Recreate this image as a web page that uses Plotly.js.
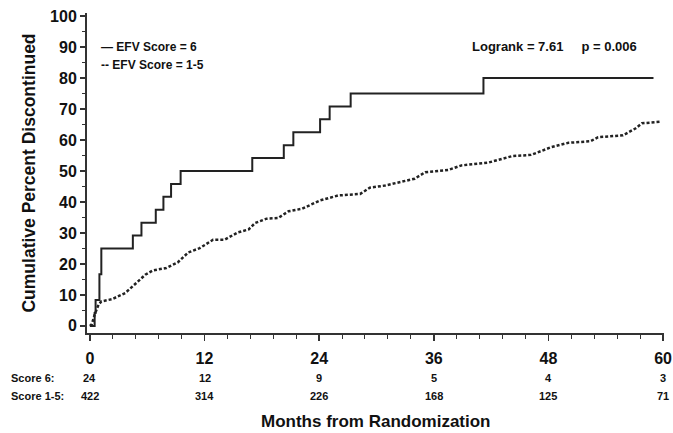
<!DOCTYPE html>
<html>
<head>
<meta charset="utf-8">
<script src="https://cdn.plot.ly/plotly-3.0.1.min.js"></script>
<style>html,body{margin:0;padding:0;background:#fff;}#chart{width:673px;height:433px;}</style>
</head>
<body>
<div id="chart"></div>
<script>
// EFV Score = 6 (solid, step curve)
const months6 = [0, 0.5, 0.6, 1.0, 1.2, 4.5, 5.4, 6.9, 7.7, 8.5, 9.5, 17.0, 20.3, 21.3, 24.1, 25.1, 27.3, 41.2, 59.0];
const pct6 = [0, 4.17, 8.33, 16.67, 25, 29.17, 33.33, 37.5, 41.67, 45.83, 50, 54.17, 58.33, 62.5, 66.67, 70.83, 75, 80, 80];
// EFV Score = 1-5 (dotted)
const months15 = [0, 0.2, 0.5, 0.9, 1.2, 2.3, 3.7, 4.7, 5.8, 6.6, 8.0, 9.2, 10.3, 11.5, 12.9, 14.1, 15.5, 16.6, 17.3, 18.5, 19.7, 20.8, 22.2, 24.1, 26.0, 28.3, 29.3, 30.9, 32.6, 34.0, 35.1, 37.5, 38.9, 41.7, 44.2, 46.2, 48.3, 50.1, 52.4, 53.2, 55.8, 57.1, 57.8, 59.8];
const pct15 = [0, 0.5, 3.6, 6.8, 7.9, 8.6, 10.6, 13.3, 16.5, 17.9, 18.7, 20.5, 23.7, 25.1, 27.8, 27.8, 30.2, 31.1, 33.2, 34.6, 34.8, 37.0, 37.8, 40.5, 42.1, 42.6, 44.6, 45.3, 46.4, 47.5, 49.6, 50.3, 51.8, 52.7, 54.8, 55.2, 57.7, 59.1, 59.6, 60.9, 61.5, 63.7, 65.4, 65.9];
// Numbers at risk
const riskMonths = [0, 12, 24, 36, 48, 60];
const risk6 = [24, 12, 9, 5, 4, 3];
const risk15 = [422, 314, 226, 168, 125, 71];
const riskLabels = ["Score 6:", "Score 1-5:"];
const legendLabels = ["\u2014 EFV Score = 6", "-- EFV Score = 1-5"];
const statText = "Logrank = 7.61     p = 0.006";
const xTicks = [0, 12, 24, 36, 48, 60];
const yTicks = [0, 10, 20, 30, 40, 50, 60, 70, 80, 90, 100];

const FONT = 'Liberation Sans, Arial, sans-serif';
const NARROW = 'Liberation Sans Narrow, Liberation Sans, Arial, sans-serif';

const traces = [
  {x: months6, y: pct6, mode: 'lines', line: {shape: 'hv', color: '#222', width: 2}, showlegend: false, hoverinfo: 'skip'},
  {x: months15, y: pct15, mode: 'lines', line: {shape: 'linear', color: '#222', width: 2.5, dash: '3px,2px'}, showlegend: false, hoverinfo: 'skip'}
];

const annotations = [];
legendLabels.forEach((t, i) => {
  annotations.push({xref: 'paper', yref: 'paper', x: 0.02, y: 0.895 - i * 0.058, xanchor: 'left', yanchor: 'middle', showarrow: false, text: '<b>' + t + '</b>', font: {family: FONT, size: 12, color: '#111'}});
});
annotations.push({xref: 'paper', yref: 'paper', x: 0.957, y: 0.895, xanchor: 'right', yanchor: 'middle', showarrow: false, text: '<b>' + statText.replace(/ {2,}/g, m => '&nbsp;'.repeat(m.length)) + '</b>', font: {family: FONT, size: 13, color: '#111'}});
const rowY = [-0.14, -0.197];
riskLabels.forEach((t, r) => {
  annotations.push({xref: 'paper', yref: 'paper', x: -0.135, y: rowY[r], xanchor: 'left', yanchor: 'middle', showarrow: false, text: '<b>' + t + '</b>', font: {family: NARROW, size: 11, color: '#111'}});
});
riskMonths.forEach((m, i) => {
  annotations.push({xref: 'x', yref: 'paper', x: m, y: rowY[0], xanchor: 'center', yanchor: 'middle', showarrow: false, text: '<b>' + risk6[i] + '</b>', font: {family: NARROW, size: 11, color: '#111'}});
  annotations.push({xref: 'x', yref: 'paper', x: m, y: rowY[1], xanchor: 'center', yanchor: 'middle', showarrow: false, text: '<b>' + risk15[i] + '</b>', font: {family: NARROW, size: 11, color: '#111'}});
});
annotations.push({xref: 'paper', yref: 'paper', x: 0.5, y: -0.278, xanchor: 'center', yanchor: 'middle', showarrow: false, text: '<b>Months from Randomization</b>', font: {family: FONT, size: 17, color: '#111'}});

const layout = {
  width: 673, height: 433,
  margin: {l: 87, r: 9, t: 13, b: 100},
  paper_bgcolor: '#fff', plot_bgcolor: '#fff',
  showlegend: false,
  font: {family: FONT, color: '#111'},
  xaxis: {
    range: [-0.3, 60.1], tickvals: xTicks, ticktext: xTicks.map(v => '<b>' + v + '</b>'),
    showgrid: false, zeroline: false, showline: true, linecolor: '#333', linewidth: 2,
    ticks: 'outside', ticklen: 6, tickwidth: 1.5, tickcolor: '#333',
    minor: {dtick: 2.4, tick0: 0, ticks: 'outside', ticklen: 4, tickwidth: 1, tickcolor: '#333', showgrid: false},
    tickfont: {family: FONT, size: 16, color: '#111'}, ticklabelstandoff: 4
  },
  yaxis: {
    range: [-2.3, 101], tickvals: yTicks, ticktext: yTicks.map(v => '<b>' + v + '</b>'),
    showgrid: false, zeroline: false, showline: true, linecolor: '#333', linewidth: 2,
    ticks: 'outside', ticklen: 5, tickwidth: 1.5, tickcolor: '#333',
    minor: {dtick: 5, tick0: 0, ticks: 'outside', ticklen: 3, tickwidth: 1, tickcolor: '#333', showgrid: false},
    tickfont: {family: FONT, size: 16, color: '#111'},
    title: {text: '<b>Cumulative Percent Discontinued</b>', font: {family: FONT, size: 17.5, color: '#111'}, standoff: 10}
  },
  annotations: annotations
};

Plotly.newPlot('chart', traces, layout, {displayModeBar: false, staticPlot: true});
</script>
</body>
</html>
